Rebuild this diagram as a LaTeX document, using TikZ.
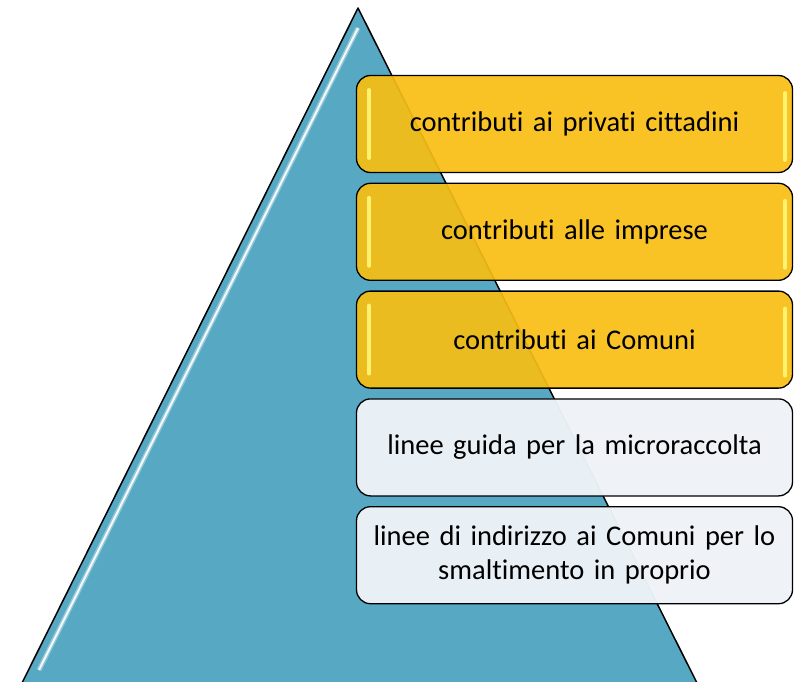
\documentclass[tikz,border=0pt]{standalone}
\usepackage{fontspec}
\setmainfont{Carlito}[Ligatures = NoCommon, WordSpace = 0.9]
\usetikzlibrary{positioning}
\definecolor{pyramidblue}{HTML}{56A8C3}
\definecolor{gold}{HTML}{F8BE12}
\definecolor{glint}{HTML}{FFF36E}
\definecolor{paleblue}{HTML}{EEF3F7}

\begin{document}
\begin{tikzpicture}[x = 1pt, y = -1pt, node distance = {9.5pt},
    level/.style = {draw, line width = 1.3pt, rounded corners = 14pt, minimum width = 436pt, minimum height = 97pt, text width = 420pt, align = center, font = \fontsize{28.5}{34}\selectfont},
    goldlevel/.style = {level, fill = gold, fill opacity = 0.92, text opacity = 1},
    palelevel/.style = {level, fill = paleblue, fill opacity = 0.97, text opacity = 1},
    bar/.style = {glint, line width = 3.5pt, line cap = round}]
    \useasboundingbox (0, 0) rectangle (795, 682);

    % pyramid
    \coordinate (top) at (358, 8);
    \coordinate (bl) at (22, 683);
    \coordinate (br) at (697, 683);
    \fill[pyramidblue] (top) -- (br) -- (bl) -- cycle;
    \draw[white, line width = 5pt, opacity = 0.35] (358, 28) -- (39, 670);
    \draw[white, line width = 2pt, opacity = 0.9] (358, 28) -- (39, 670);
    \draw[line width = 1.5pt, line join = round] (bl) -- (top) -- (br);

    % levels
    \node[goldlevel](private) at (574.5, 124) {contributi ai privati cittadini};
    \node[goldlevel](firms) [below = of private] {contributi alle imprese};
    \node[goldlevel](towns) [below = of firms] {contributi ai Comuni};
    \node[palelevel](guide) [below = of towns] {linee guida per la microraccolta};
    \node[palelevel](address) [below = of guide] {linee di indirizzo ai Comuni per lo\\smaltimento in proprio};

    % glints
    \draw[bar] ([shift = {(13pt, -15pt)}]private.north west) -- ([shift = {(13pt, 15pt)}]private.south west);
    \draw[bar] ([shift = {(-8pt, -18pt)}]private.north east) -- ([shift = {(-8pt, 13pt)}]private.south east);
    \draw[bar] ([shift = {(13pt, -15pt)}]firms.north west) -- ([shift = {(13pt, 15pt)}]firms.south west);
    \draw[bar] ([shift = {(-8pt, -18pt)}]firms.north east) -- ([shift = {(-8pt, 13pt)}]firms.south east);
    \draw[bar] ([shift = {(13pt, -15pt)}]towns.north west) -- ([shift = {(13pt, 15pt)}]towns.south west);
    \draw[bar] ([shift = {(-8pt, -18pt)}]towns.north east) -- ([shift = {(-8pt, 13pt)}]towns.south east);
\end{tikzpicture}
\end{document}
